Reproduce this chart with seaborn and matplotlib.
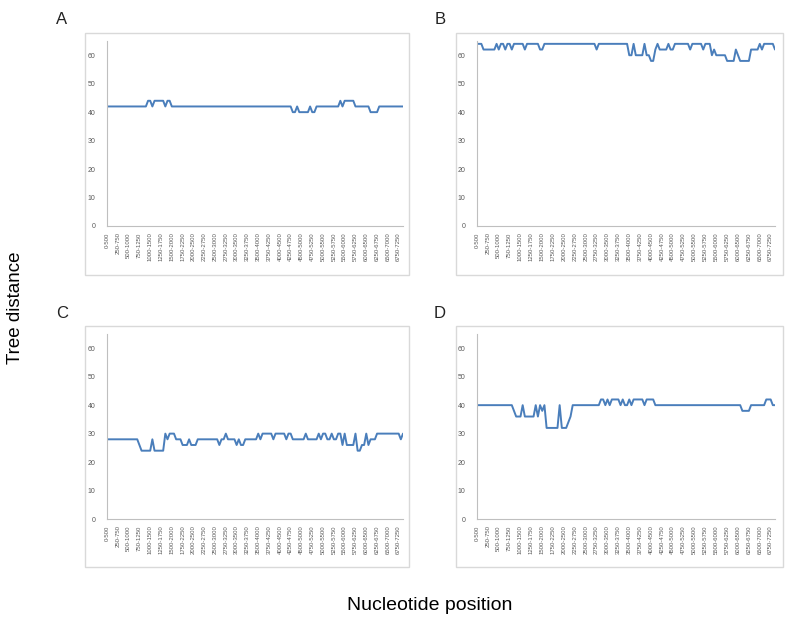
import numpy as np
import pandas as pd
import seaborn as sns
from matplotlib import pyplot as plt
from matplotlib.patches import Rectangle

# sliding windows of 500 bp, step 50 bp
window_labels = ['0-500', '250-750', '500-1000', '750-1250', '1000-1500', '1250-1750',
                 '1500-2000', '1750-2250', '2000-2500', '2250-2750', '2500-3000', '2750-3250',
                 '3000-3500', '3250-3750', '3500-4000', '3750-4250', '4000-4500', '4250-4750',
                 '4500-5000', '4750-5250', '5000-5500', '5250-5750', '5500-6000', '5750-6250',
                 '6000-6500', '6250-6750', '6500-7000', '6750-7250']

dist_a = [42, 42, 42, 42, 42, 42, 42, 42, 42, 42,
          42, 42, 42, 42, 42, 42, 42, 42, 42, 44,
          44, 42, 44, 44, 44, 44, 44, 42, 44, 44,
          42, 42, 42, 42, 42, 42, 42, 42, 42, 42,
          42, 42, 42, 42, 42, 42, 42, 42, 42, 42,
          42, 42, 42, 42, 42, 42, 42, 42, 42, 42,
          42, 42, 42, 42, 42, 42, 42, 42, 42, 42,
          42, 42, 42, 42, 42, 42, 42, 42, 42, 42,
          42, 42, 42, 42, 42, 42, 40, 40, 42, 40,
          40, 40, 40, 40, 42, 40, 40, 42, 42, 42,
          42, 42, 42, 42, 42, 42, 42, 42, 44, 42,
          44, 44, 44, 44, 44, 42, 42, 42, 42, 42,
          42, 42, 40, 40, 40, 40, 42, 42, 42, 42,
          42, 42, 42, 42, 42, 42, 42, 42]

dist_b = [64, 64, 64, 62, 62, 62, 62, 62, 62, 64,
          62, 64, 64, 62, 64, 64, 62, 64, 64, 64,
          64, 64, 62, 64, 64, 64, 64, 64, 64, 62,
          62, 64, 64, 64, 64, 64, 64, 64, 64, 64,
          64, 64, 64, 64, 64, 64, 64, 64, 64, 64,
          64, 64, 64, 64, 64, 62, 64, 64, 64, 64,
          64, 64, 64, 64, 64, 64, 64, 64, 64, 64,
          60, 60, 64, 60, 60, 60, 60, 64, 60, 60,
          58, 58, 62, 64, 62, 62, 62, 62, 64, 62,
          62, 64, 64, 64, 64, 64, 64, 64, 62, 64,
          64, 64, 64, 64, 62, 64, 64, 64, 60, 62,
          60, 60, 60, 60, 60, 58, 58, 58, 58, 62,
          60, 58, 58, 58, 58, 58, 62, 62, 62, 62,
          64, 62, 64, 64, 64, 64, 64, 62]

dist_c = [28, 28, 28, 28, 28, 28, 28, 28, 28, 28,
          28, 28, 28, 28, 28, 26, 24, 24, 24, 24,
          24, 28, 24, 24, 24, 24, 24, 30, 28, 30,
          30, 30, 28, 28, 28, 26, 26, 26, 28, 26,
          26, 26, 28, 28, 28, 28, 28, 28, 28, 28,
          28, 28, 26, 28, 28, 30, 28, 28, 28, 28,
          26, 28, 26, 26, 28, 28, 28, 28, 28, 28,
          30, 28, 30, 30, 30, 30, 30, 28, 30, 30,
          30, 30, 30, 28, 30, 30, 28, 28, 28, 28,
          28, 28, 30, 28, 28, 28, 28, 28, 30, 28,
          30, 30, 28, 28, 30, 28, 28, 30, 30, 26,
          30, 26, 26, 26, 26, 30, 24, 24, 26, 26,
          30, 26, 28, 28, 28, 30, 30, 30, 30, 30,
          30, 30, 30, 30, 30, 30, 28, 30]

dist_d = [40, 40, 40, 40, 40, 40, 40, 40, 40, 40,
          40, 40, 40, 40, 40, 40, 40, 38, 36, 36,
          36, 40, 36, 36, 36, 36, 36, 40, 36, 40,
          38, 40, 32, 32, 32, 32, 32, 32, 40, 32,
          32, 32, 34, 36, 40, 40, 40, 40, 40, 40,
          40, 40, 40, 40, 40, 40, 40, 42, 42, 40,
          42, 40, 42, 42, 42, 42, 40, 42, 40, 40,
          42, 40, 42, 42, 42, 42, 42, 40, 42, 42,
          42, 42, 40, 40, 40, 40, 40, 40, 40, 40,
          40, 40, 40, 40, 40, 40, 40, 40, 40, 40,
          40, 40, 40, 40, 40, 40, 40, 40, 40, 40,
          40, 40, 40, 40, 40, 40, 40, 40, 40, 40,
          40, 40, 38, 38, 38, 38, 40, 40, 40, 40,
          40, 40, 40, 42, 42, 42, 40, 40]

panels = {'A': dist_a, 'B': dist_b, 'C': dist_c, 'D': dist_d}

sns.set_style("white")
plt.rcParams['font.family'] = ['Liberation Sans', 'DejaVu Sans']

W, H = 788, 623
fig = plt.figure(figsize=(W / 100, H / 100), dpi=100)

# pixel boxes: plot area (left, top, right, bottom) and outer frame
plot_boxes = {'A': (107, 41, 403, 226), 'B': (477, 41, 775, 226),
              'C': (107, 334, 403, 519), 'D': (477, 334, 775, 519)}
frame_boxes = {'A': (85, 33, 409, 275), 'B': (456, 33, 783, 275),
               'C': (85, 326, 409, 567), 'D': (456, 326, 783, 567)}
letter_pos = {'A': (62, 20), 'B': (440, 20), 'C': (62, 313), 'D': (440, 313)}

line_color = '#4a7ebb'
axis_color = '#bfbfbf'
label_color = '#595959'

for key, vals in panels.items():
    l, t, r, b = plot_boxes[key]
    ax = fig.add_axes([l / W, 1 - b / H, (r - l) / W, (b - t) / H])
    df = pd.DataFrame({'pos': np.arange(len(vals)), 'dist': vals})
    sns.lineplot(data=df, x='pos', y='dist', ax=ax, color=line_color, linewidth=1.4)
    ax.set_xlim(0, len(vals) - 1)
    ax.set_ylim(0, 65)
    ax.set_yticks(range(0, 61, 10))
    ax.set_xticks(np.arange(len(window_labels)) * 5)
    ax.set_xticklabels(window_labels, rotation=90)
    ax.tick_params(axis='x', labelsize=4.3, colors=label_color, length=2.5, width=0.6,
                   color=axis_color, pad=2)
    ax.tick_params(axis='y', labelsize=5, colors=label_color, length=2.5, width=0.6,
                   color=axis_color, pad=6)
    ax.set_xlabel('')
    ax.set_ylabel('')
    for side in ['top', 'right']:
        ax.spines[side].set_visible(False)
    for side in ['left', 'bottom']:
        ax.spines[side].set_color(axis_color)
        ax.spines[side].set_linewidth(0.8)
    ax.set_facecolor('none')

    fl, ft, fr, fb = frame_boxes[key]
    fig.patches.append(Rectangle((fl / W, 1 - fb / H), (fr - fl) / W, (fb - ft) / H,
                                 transform=fig.transFigure, fill=False,
                                 edgecolor='#d9d9d9', linewidth=1.0))
    lx, ly = letter_pos[key]
    fig.text(lx / W, 1 - ly / H, key, ha='center', va='center', fontsize=12, color='#222222')

fig.text(16 / W, 1 - 308 / H, 'Tree distance', rotation=90, ha='center', va='center',
         fontsize=13.5, color='black')
fig.text(430 / W, 1 - 606 / H, 'Nucleotide position', ha='center', va='center',
         fontsize=14, color='black')

plt.savefig('out.png', dpi=100)
plt.close()
